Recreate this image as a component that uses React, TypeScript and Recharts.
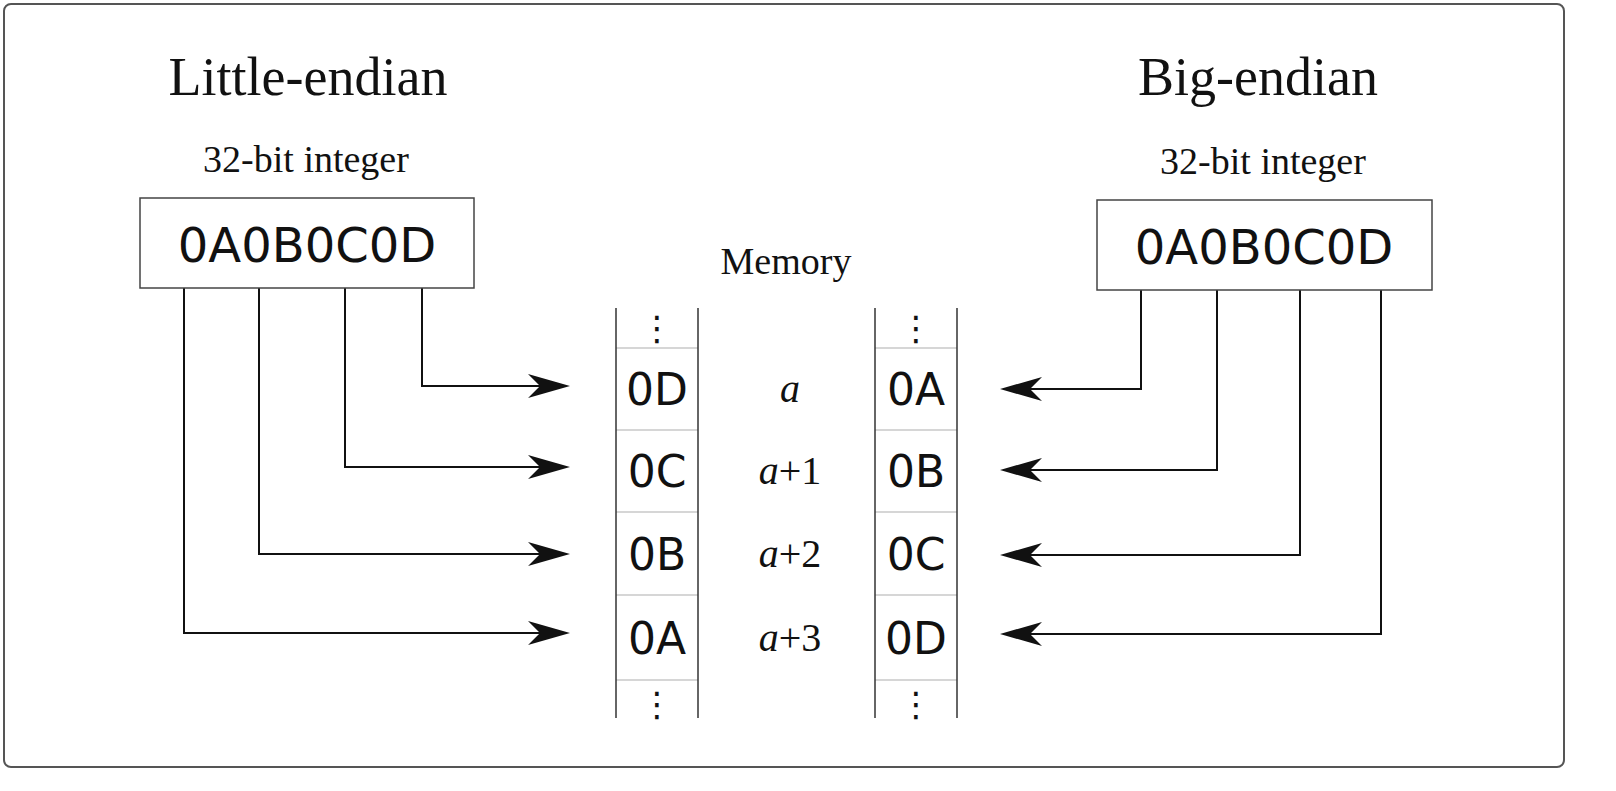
import { ComposedChart, Line, Scatter, XAxis, YAxis } from "recharts";

const integerValue = "0A0B0C0D";
const littleBytes = ["0D", "0C", "0B", "0A"];
const bigBytes = ["0A", "0B", "0C", "0D"];
const addresses = ["a", "a+1", "a+2", "a+3"];

const W = 1568;
const H = 770;
const rowTop = [348, 430, 512, 595];
const rowBottom = 680;
const colLeft = [616, 875];
const colW = 82;
const leftSrcX = [422, 345, 259, 184];
const rightSrcX = [1141, 1217, 1300, 1381];
const leftArrowY = [386, 467, 554, 633];
const rightArrowY = [389, 470, 555, 634];

const serif = "'Liberation Serif', 'DejaVu Serif', serif";
const sans = "'DejaVu Sans', sans-serif";

type Pt = { x: number; y: number; label?: string; kind?: string; dir?: number };

const rowCenter = (i: number) => (rowTop[i] + (rowTop[i + 1] ?? rowBottom)) / 2;

const texts: Pt[] = [
  { x: 308, y: 95, label: "Little-endian", kind: "title" },
  { x: 1258, y: 95, label: "Big-endian", kind: "title" },
  { x: 306, y: 172, label: "32-bit integer", kind: "sub" },
  { x: 1263, y: 174, label: "32-bit integer", kind: "sub" },
  { x: 786, y: 274, label: "Memory", kind: "sub" },
  { x: 307, y: 262, label: integerValue, kind: "hex" },
  { x: 1264, y: 264, label: integerValue, kind: "hex" },
  ...littleBytes.map((b, i) => ({ x: colLeft[0] + colW / 2, y: rowCenter(i) + 16, label: b, kind: "cell" })),
  ...bigBytes.map((b, i) => ({ x: colLeft[1] + colW / 2, y: rowCenter(i) + 16, label: b, kind: "cell" })),
  ...addresses.map((a, i) => ({ x: 790, y: rowCenter(i) + 13, label: a, kind: "addr" })),
  ...colLeft.flatMap((c) => [
    { x: c + colW / 2, y: 340, label: "⋮", kind: "dots" },
    { x: c + colW / 2, y: 716, label: "⋮", kind: "dots" },
  ]),
];

const boxes: Pt[] = [
  { x: 140, y: 198, label: "334x90" },
  { x: 1097, y: 200, label: "335x90" },
];

const arrowHeads: Pt[] = [
  ...leftArrowY.map((y) => ({ x: 570, y, dir: 1 })),
  ...rightArrowY.map((y) => ({ x: 1000, y, dir: -1 })),
];

const connectors: Pt[][] = [
  ...leftSrcX.map((x, i) => [
    { x, y: 288 },
    { x, y: leftArrowY[i] },
    { x: 545, y: leftArrowY[i] },
  ]),
  ...rightSrcX.map((x, i) => [
    { x, y: 290 },
    { x, y: rightArrowY[i] },
    { x: 1025, y: rightArrowY[i] },
  ]),
];

const gridLines: Pt[][] = colLeft.flatMap((c) => [
  [{ x: c, y: 308 }, { x: c, y: 718 }],
  [{ x: c + colW, y: 308 }, { x: c + colW, y: 718 }],
]);
const separators: Pt[][] = colLeft.flatMap((c) =>
  [...rowTop, rowBottom].map((y) => [{ x: c, y }, { x: c + colW, y }])
);

function TextShape(props: any) {
  const { cx, cy, payload } = props;
  const k = payload.kind;
  const style =
    k === "title"
      ? { fontFamily: serif, fontSize: 54 }
      : k === "sub"
      ? { fontFamily: serif, fontSize: 38 }
      : k === "hex"
      ? { fontFamily: sans, fontSize: 48 }
      : k === "cell"
      ? { fontFamily: sans, fontSize: 44 }
      : k === "dots"
      ? { fontFamily: sans, fontSize: 34 }
      : { fontFamily: serif, fontSize: 40 };
  if (k === "addr") {
    const a = payload.label[0];
    const rest = payload.label.slice(1);
    return (
      <text x={cx} y={cy} textAnchor="middle" fill="#111" {...style}>
        <tspan fontStyle="italic">{a}</tspan>
        {rest}
      </text>
    );
  }
  return (
    <text x={cx} y={cy} textAnchor="middle" fill="#111" {...style}>
      {payload.label}
    </text>
  );
}

function BoxShape(props: any) {
  const { cx, cy, payload } = props;
  const [w, h] = payload.label.split("x").map(Number);
  return <rect x={cx} y={cy} width={w} height={h} fill="#fff" stroke="#444" strokeWidth={1.5} />;
}

function HeadShape(props: any) {
  const { cx, cy, payload } = props;
  const d = payload.dir;
  const pts = [
    [cx, cy],
    [cx - d * 42, cy - 12],
    [cx - d * 30, cy],
    [cx - d * 42, cy + 12],
  ]
    .map((p) => p.join(","))
    .join(" ");
  return <polygon points={pts} fill="#111" />;
}

export default function App() {
  return (
    <div style={{ position: "fixed", left: 0, top: 0, width: 1616, height: 791, overflow: "hidden", background: "#fff" }}>
      <style>{"html,body{margin:0;overflow:hidden}"}</style>
      <div
        style={{
          position: "absolute",
          left: 3,
          top: 3,
          width: 1558,
          height: 761,
          border: "2px solid #555",
          borderRadius: 8,
        }}
      />
      <div style={{ position: "absolute", left: 0, top: 0, width: W, height: H }}>
        <ComposedChart width={W} height={H} margin={{ top: 0, right: 0, bottom: 0, left: 0 }}>
          <XAxis type="number" dataKey="x" domain={[0, W]} hide allowDataOverflow />
          <YAxis type="number" dataKey="y" domain={[0, H]} reversed hide allowDataOverflow />
          {separators.map((d, i) => (
            <Line key={"s" + i} data={d} dataKey="y" type="linear" stroke="#c8c8c8" strokeWidth={1.5} dot={false} isAnimationActive={false} />
          ))}
          {gridLines.map((d, i) => (
            <Line key={"g" + i} data={d} dataKey="y" type="linear" stroke="#333" strokeWidth={1.5} dot={false} isAnimationActive={false} />
          ))}
          {connectors.map((d, i) => (
            <Line key={"c" + i} data={d} dataKey="y" type="linear" stroke="#111" strokeWidth={2} dot={false} isAnimationActive={false} />
          ))}
          <Scatter data={boxes} shape={<BoxShape />} isAnimationActive={false} />
          <Scatter data={arrowHeads} shape={<HeadShape />} isAnimationActive={false} />
          <Scatter data={texts} shape={<TextShape />} isAnimationActive={false} />
        </ComposedChart>
      </div>
    </div>
  );
}
